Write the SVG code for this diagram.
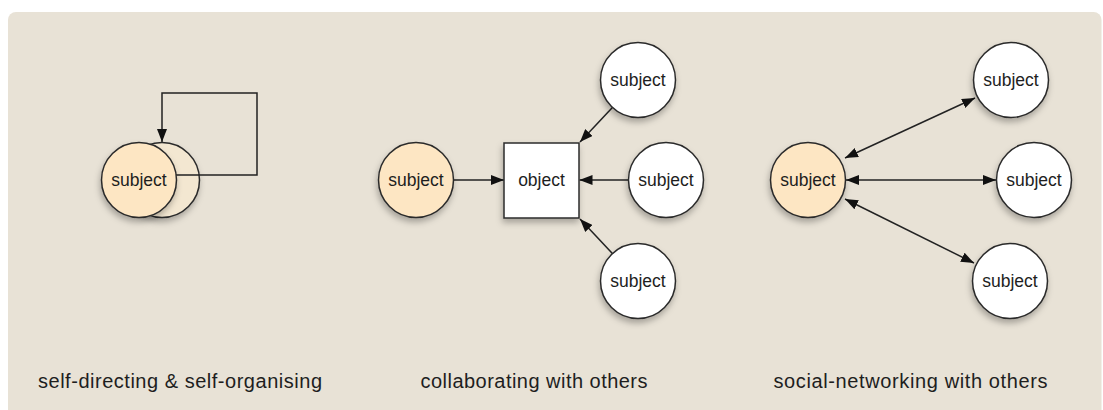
<svg xmlns="http://www.w3.org/2000/svg" width="1103" height="410" viewBox="0 0 1103 410">
  <defs>
    <filter id="shadow" x="-30%" y="-30%" width="160%" height="170%">
      <feDropShadow dx="-1" dy="4" stdDeviation="3" flood-color="#000" flood-opacity="0.28"/>
    </filter>
    <marker id="arrow" viewBox="0 0 13 10" refX="13" refY="5" markerWidth="13" markerHeight="10" markerUnits="userSpaceOnUse" orient="auto-start-reverse">
      <path d="M0,0 L13,5 L0,10 Z" fill="#111"/>
    </marker>
    <style>
      .node { stroke: #2b2b2b; stroke-width: 1.5; filter: url(#shadow); }
      .self { fill: #fde6c3; }
      .ghost { fill: #f3e7d1; }
      .other { fill: #ffffff; }
      .nlabel { font-family: "Liberation Sans", Arial, sans-serif; font-size: 17.5px; fill: #1e1e1e; text-anchor: middle; }
      .caption { font-family: "Liberation Sans", Arial, sans-serif; font-size: 20px; fill: #1e1e1e; text-anchor: middle; }
      .link { fill: none; stroke: #222; stroke-width: 1.5; }
      .one { marker-end: url(#arrow); }
      .both { marker-start: url(#arrow); marker-end: url(#arrow); }
    </style>
  </defs>

  <!-- panel -->
  <rect x="8" y="12" width="1093.5" height="420" rx="8" fill="#e8e2d6"/>

  <!-- self-directing: subject with its echo -->
  <g id="self-echo">
    <circle class="node ghost" cx="162" cy="180" r="37.5"/>
  </g>

  <g id="connectors">
    <!-- feedback loop back onto the subject -->
    <path class="link one" d="M176,175 H257 V93 H162 V142"/>
    <!-- collaborating -->
    <path class="link one" d="M453.5,180 H504"/>
    <path class="link one" d="M612.4,107.4 L580,142"/>
    <path class="link one" d="M628.5,180 H579.5"/>
    <path class="link one" d="M612.4,253.6 L580,219"/>
    <!-- social networking -->
    <path class="link both" d="M845,158 L975,98"/>
    <path class="link both" d="M846,180 H996"/>
    <path class="link both" d="M845,199 L974,263"/>
  </g>

  <g id="self-subject">
    <circle class="node self" cx="139" cy="180" r="37.5"/>
    <text class="nlabel" x="139" y="186">subject</text>
  </g>

  <!-- collaborating with others -->
  <g id="collab-subject">
    <circle class="node self" cx="416" cy="180" r="37.5"/>
    <text class="nlabel" x="416" y="186">subject</text>
  </g>
  <g id="collab-object">
    <rect class="node other" x="504" y="143" width="75" height="75"/>
    <text class="nlabel" x="541.5" y="186">object</text>
  </g>
  <g id="collab-top">
    <circle class="node other" cx="638" cy="80" r="37.5"/>
    <text class="nlabel" x="638" y="86">subject</text>
  </g>
  <g id="collab-right">
    <circle class="node other" cx="666" cy="180" r="37.5"/>
    <text class="nlabel" x="666" y="186">subject</text>
  </g>
  <g id="collab-bottom">
    <circle class="node other" cx="638" cy="281" r="37.5"/>
    <text class="nlabel" x="638" y="287">subject</text>
  </g>

  <!-- social-networking with others -->
  <g id="net-subject">
    <circle class="node self" cx="808" cy="180" r="37.5"/>
    <text class="nlabel" x="808" y="186">subject</text>
  </g>
  <g id="net-top">
    <circle class="node other" cx="1011" cy="80" r="37.5"/>
    <text class="nlabel" x="1011" y="86">subject</text>
  </g>
  <g id="net-right">
    <circle class="node other" cx="1034" cy="180" r="37.5"/>
    <text class="nlabel" x="1034" y="186">subject</text>
  </g>
  <g id="net-bottom">
    <circle class="node other" cx="1010" cy="281" r="37.5"/>
    <text class="nlabel" x="1010" y="287">subject</text>
  </g>

  <!-- captions -->
  <g id="captions">
    <text class="caption" x="180" y="388" textLength="284" lengthAdjust="spacing">self-directing &amp; self-organising</text>
    <text class="caption" x="534" y="388" textLength="227" lengthAdjust="spacing">collaborating with others</text>
    <text class="caption" x="910.5" y="388" textLength="274" lengthAdjust="spacing">social-networking with others</text>
  </g>
</svg>
